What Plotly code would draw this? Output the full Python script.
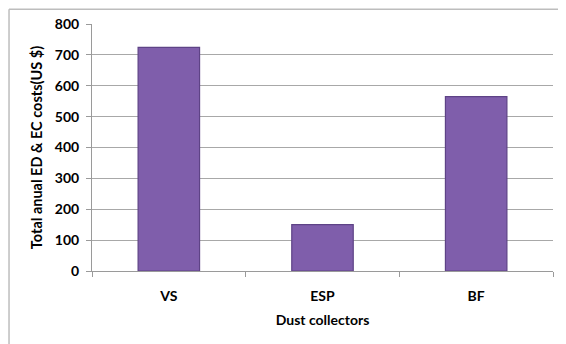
import plotly.graph_objects as go

categories = ["VS", "ESP", "BF"]
costs = [724, 150, 565]
y_ticks = [0, 100, 200, 300, 400, 500, 600, 700, 800]

FONT = "Lato"

fig = go.Figure()
fig.add_trace(go.Bar(
    x=categories, y=costs,
    marker=dict(color="#7F5EAB", line=dict(color="#5E4386", width=1.2)),
    width=0.4,
))

fig.update_layout(
    width=558, height=336,
    margin=dict(l=84, r=13, t=16, b=73, autoexpand=False),
    paper_bgcolor="white", plot_bgcolor="white",
    showlegend=False,
    font=dict(family=FONT, color="black"),
    shapes=[
        dict(type="line", xref="paper", yref="paper", x0=-0.18, x1=1.03, y0=1.06, y1=1.06,
             line=dict(color="#BDBDBD", width=1.5), layer="below"),
        dict(type="line", xref="paper", yref="paper", x0=-0.18, x1=-0.18, y0=1.06, y1=-0.3,
             line=dict(color="#BDBDBD", width=1.5), layer="below"),
    ],
)
fig.update_xaxes(
    automargin=False,
    showline=True, linecolor="#9A9A9A", linewidth=1,
    ticks="outside", tickson="boundaries", ticklen=5, tickcolor="#9A9A9A",
    ticklabelstandoff=12,
    tickfont=dict(family=FONT, size=14, color="black", weight="bold"),
    title=dict(text="Dust collectors", font=dict(family=FONT, size=14, weight="bold"), standoff=12),
    showgrid=False,
)
fig.update_yaxes(
    automargin=False,
    range=[0, 800], tickvals=y_ticks,
    showline=True, linecolor="#9A9A9A", linewidth=1,
    ticks="outside", ticklen=5, tickcolor="#9A9A9A",
    ticklabelstandoff=4,
    showgrid=True, gridcolor="#A8A8A8", gridwidth=1,
    tickfont=dict(family=FONT, size=14, color="black", weight="bold"),
    title=dict(text="Total anual ED & EC costs(US $)", font=dict(family=FONT, size=14.5, weight="bold"), standoff=8),
    zeroline=False,
)

fig.write_html("out.html")
